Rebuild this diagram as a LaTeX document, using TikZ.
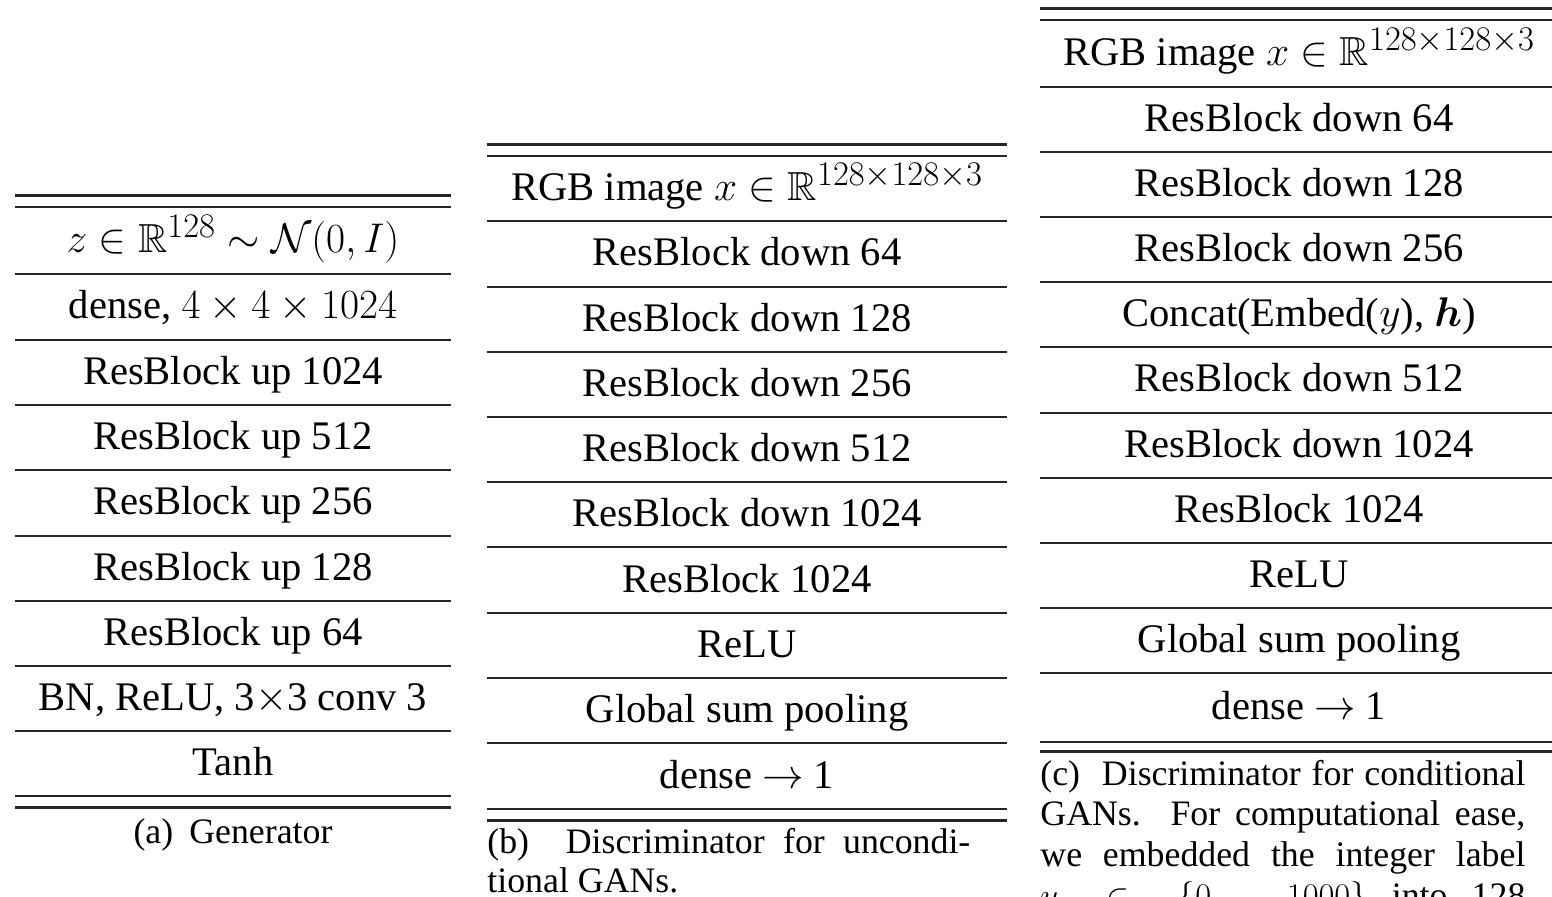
\documentclass[tikz,border=0pt]{standalone}
\usepackage{amsmath,amssymb,bm}
\usepackage[no-math]{fontspec}
\setmainfont{Liberation Serif}
\DeclareMathSizes{20.3}{20.3}{16}{12}
\newcommand{\rowfont}{\fontsize{20.3}{24}\selectfont}
\newcommand{\capfont}{\fontsize{17.9}{20}\selectfont}
\tikzset{
  heavyrule/.style={line width=1.5pt, black!85},
  lightrule/.style={line width=0.95pt, black!85},
  cell/.style={anchor=base, inner sep=0pt, font=\rowfont},
  captext/.style={inner sep=0pt, font=\capfont},
}
\begin{document}
\begin{tikzpicture}[x=0.5pt,y=-0.5pt]
\useasboundingbox (0,0) rectangle (1552,897);
\clip (0,0) rectangle (1552,897);
\fill[white] (0,0) rectangle (1552,897);

% ---------------- (a) Generator ----------------
\draw[heavyrule] (15,196) -- (451,196);
\draw[lightrule] (15,207) -- (451,207);
\foreach \yy in {274,340,405,470,536,601,666,731}
  \draw[lightrule] (15,\yy) -- (451,\yy);
\draw[lightrule] (15,796) -- (451,796);
\draw[heavyrule] (15,807) -- (451,807);
\foreach \m/\t [count=\i] in {
  240.5/{$z\in\mathbb{R}^{128}\sim\mathcal{N}(0,I)$},
  307/{dense, $4\times4\times1024$},
  372.5/{ResBlock up 1024},
  437.5/{ResBlock up 512},
  503/{ResBlock up 256},
  568.5/{ResBlock up 128},
  633.5/{ResBlock up 64},
  698.5/{BN, ReLU, 3$\times$3 conv 3},
  763.5/{Tanh}}
  \node[cell] (a\i) at (233,\m+12) {\t};
\node[captext, anchor=base] (capa) at (233,843) {(a)\hspace{0.45em}Generator};

% ---------------- (b) Discriminator (unconditional) ----------------
\draw[heavyrule] (487,145) -- (1007,145);
\draw[lightrule] (487,156) -- (1007,156);
\foreach \yy in {221,287,352,417,482,547,613,678,743}
  \draw[lightrule] (487,\yy) -- (1007,\yy);
\draw[lightrule] (487,809) -- (1007,809);
\draw[heavyrule] (487,820) -- (1007,820);
\foreach \m/\t [count=\i] in {
  188.5/{RGB image $x\in\mathbb{R}^{128\times128\times3}$},
  254/{ResBlock down 64},
  319.5/{ResBlock down 128},
  384.5/{ResBlock down 256},
  449.5/{ResBlock down 512},
  514.5/{ResBlock down 1024},
  580/{ResBlock 1024},
  645.5/{ReLU},
  710.5/{Global sum pooling},
  776/{dense $\rightarrow$ 1}}
  \node[cell] (b\i) at (747,\m+12) {\t};
\node[captext, anchor=base west] (capb1) at (487,853)
  {\makebox[241.5pt][s]{(b)\ \ Discriminator for uncondi-}};
\node[captext, anchor=base west] (capb2) at (487,892) {tional GANs.};

% ---------------- (c) Discriminator (conditional) ----------------
\draw[heavyrule] (1040,9) -- (1560,9);
\draw[lightrule] (1040,20) -- (1560,20);
\foreach \yy in {87,152,217,282,347,413,478,543,608,673}
  \draw[lightrule] (1040,\yy) -- (1560,\yy);
\draw[lightrule] (1040,742) -- (1560,742);
\draw[heavyrule] (1040,751) -- (1560,751);
\foreach \m/\t [count=\i] in {
  53.5/{RGB image $x\in\mathbb{R}^{128\times128\times3}$},
  119.5/{ResBlock down 64},
  184.5/{ResBlock down 128},
  249.5/{ResBlock down 256},
  314.5/{Concat(Embed($y$), $\bm{h}$)},
  380/{ResBlock down 512},
  445.5/{ResBlock down 1024},
  510.5/{ResBlock 1024},
  575.5/{ReLU},
  640.5/{Global sum pooling},
  707.5/{dense $\rightarrow$ 1}}
  \node[cell] (c\i) at (1299,\m+12) {\t};
\node[captext, anchor=base west] (capc1) at (1040,785)
  {\makebox[242.5pt][s]{(c)\ \ Discriminator for conditional}};
\node[captext, anchor=base west] (capc2) at (1040,825)
  {\makebox[242.5pt][s]{GANs.\ \ For computational ease,}};
\node[captext, anchor=base west] (capc3) at (1040,866)
  {\makebox[242.5pt][s]{we embedded the integer label}};
\node[captext, anchor=base west] (capc4) at (1040,907)
  {\makebox[242.5pt][s]{$y$ \ $\in$ \ $\{0,\ldots,1000\}$ into 128}};
\end{tikzpicture}
\end{document}
